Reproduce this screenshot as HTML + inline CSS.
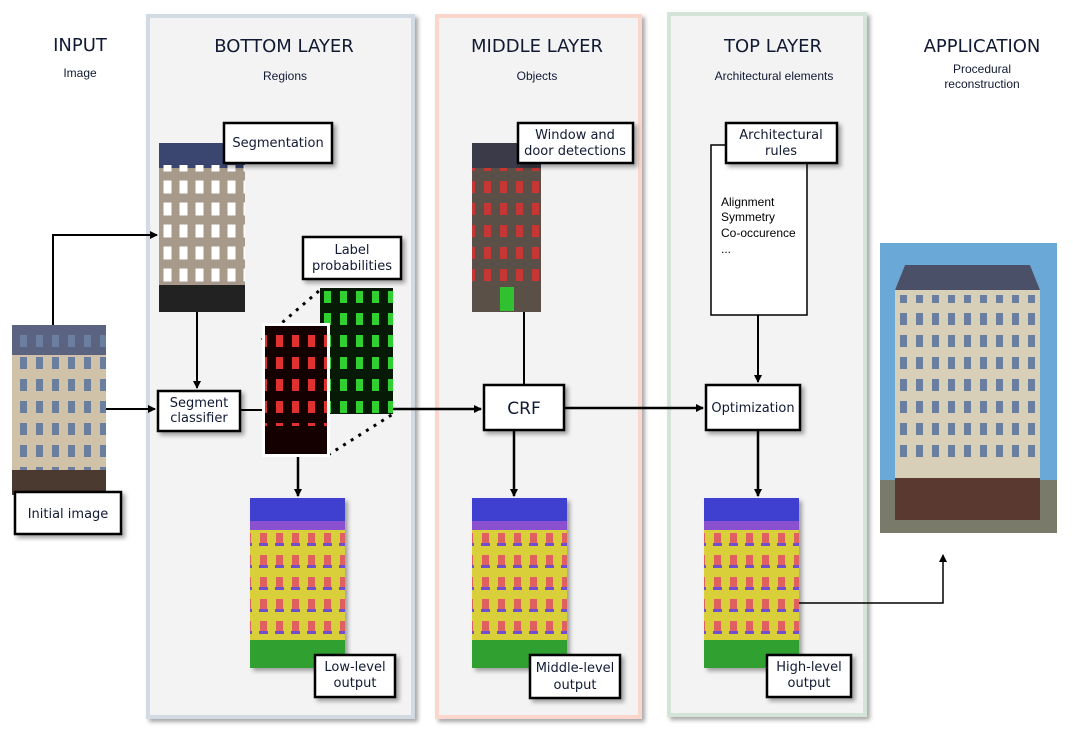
<!DOCTYPE html><html><head><style>body{margin:0;background:#fff}svg{display:block}text{font-family:"DejaVu Sans","Liberation Sans",sans-serif}</style></head><body>
<svg width="1073" height="750" viewBox="0 0 1073 750" xmlns="http://www.w3.org/2000/svg">
<defs>
<marker id="a" markerWidth="8" markerHeight="8" refX="7" refY="4" orient="auto" markerUnits="userSpaceOnUse"><path d="M0,0 L8,4 L0,8z" fill="#000"/></marker>
<pattern id="win" width="16" height="22" patternUnits="userSpaceOnUse"><rect x="4" y="5" width="7" height="12" fill="#6a7fa0"/></pattern>
<pattern id="rwin" width="16" height="22" patternUnits="userSpaceOnUse"><rect x="4" y="5" width="7" height="12" fill="#e03030"/></pattern>
<pattern id="swin" width="16" height="22" patternUnits="userSpaceOnUse"><rect x="4" y="5" width="7" height="12" fill="#fff" stroke="#fff"/></pattern>
<pattern id="gwin" width="16" height="22" patternUnits="userSpaceOnUse"><rect x="4" y="5" width="7" height="12" fill="#30d030"/></pattern>
<pattern id="owin" width="16" height="22" patternUnits="userSpaceOnUse"><rect x="4" y="5" width="7" height="10" fill="#e06060"/><rect x="3" y="15" width="9" height="3" fill="#7050d0"/></pattern>
<filter id="sh"><feDropShadow dx="3" dy="3" stdDeviation="2" flood-opacity="0.35"/></filter>
</defs>
<!-- panels -->
<rect x="148" y="16" width="265" height="701" fill="#f3f3f3" stroke="#d2dbe4" stroke-width="4" filter="url(#sh)"/>
<rect x="437" y="16" width="203" height="701" fill="#f3f3f3" stroke="#fbd6cc" stroke-width="4" filter="url(#sh)"/>
<rect x="669" y="14" width="196" height="701" fill="#f3f3f3" stroke="#d4e4d9" stroke-width="4" filter="url(#sh)"/>
<!-- headers -->
<g fill="#111a33" font-size="18" text-anchor="middle">
<text x="80" y="51">INPUT</text><text x="284" y="52">BOTTOM LAYER</text><text x="537" y="52">MIDDLE LAYER</text><text x="773" y="52">TOP LAYER</text><text x="982" y="52">APPLICATION</text></g>
<g fill="#111a33" font-size="12" text-anchor="middle" font-family="Liberation Sans">
<text x="80" y="77" style="font-family:'Liberation Sans'">Image</text><text x="285" y="80" style="font-family:'Liberation Sans'">Regions</text><text x="537" y="80" style="font-family:'Liberation Sans'">Objects</text><text x="774" y="80" style="font-family:'Liberation Sans'">Architectural elements</text><text x="982" y="73" style="font-family:'Liberation Sans'">Procedural</text><text x="982" y="88" style="font-family:'Liberation Sans'">reconstruction</text></g>
<!-- connectors -->
<g stroke="#000" stroke-width="2" fill="none">
<path d="M53 325 V235 H157" marker-end="url(#a)"/>
<path d="M106 409 H155" marker-end="url(#a)"/>
<path d="M197 312 V388" marker-end="url(#a)"/>
<path d="M241 410 H264"/>
<path d="M393 409 H481" marker-end="url(#a)" stroke-width="2.5"/>
<path d="M565 408 H703" marker-end="url(#a)" stroke-width="2.5"/>
<path d="M298 455 V496" marker-end="url(#a)" stroke-width="2.5"/>
<path d="M524 312 V384"/>
<path d="M514 430 V496" marker-end="url(#a)" stroke-width="2.5"/>
<path d="M758 315 V382" marker-end="url(#a)"/>
<path d="M758 430 V496" marker-end="url(#a)" stroke-width="2.5"/>
<path d="M797 603 H943 V555" marker-end="url(#a)" stroke-width="1.5"/>
<path d="M262 340 L320 290 M328 455 L393 414" stroke-dasharray="3,6" stroke-width="3"/>
</g>
<!-- input image -->
<rect x="12" y="325" width="94" height="170" fill="#cfc2a8"/><rect x="12" y="325" width="94" height="30" fill="#5a6480"/><rect x="12" y="335" width="94" height="150" fill="url(#win)"/><rect x="12" y="470" width="94" height="25" fill="#4a3a30"/>
<!-- segmentation image -->
<rect x="159" y="143" width="86" height="169" fill="#a89a8a"/><rect x="159" y="143" width="86" height="25" fill="#3a4570"/><rect x="159" y="165" width="86" height="120" fill="url(#swin)"/><rect x="159" y="285" width="86" height="27" fill="#222"/>
<!-- green & red -->
<rect x="320" y="288" width="73" height="126" fill="#061a06"/><rect x="320" y="288" width="73" height="126" fill="url(#gwin)"/>
<rect x="262" y="323" width="68" height="134" fill="#fff"/><rect x="265" y="326" width="62" height="128" fill="#150000"/><rect x="265" y="326" width="62" height="100" fill="url(#rwin)"/>
<!-- middle detection -->
<rect x="472" y="143" width="69" height="169" fill="#5a5048"/><rect x="472" y="143" width="69" height="25" fill="#3a3a48"/><rect x="472" y="168" width="69" height="120" fill="url(#rwin)" opacity="0.8"/><rect x="500" y="287" width="14" height="24" fill="#30c030"/>
<!-- outputs -->
<g id="out">
<rect x="250" y="498" width="95" height="170" fill="#d8cf3a" filter="url(#sh)"/><rect x="250" y="498" width="95" height="23" fill="#4040d0"/><rect x="250" y="521" width="95" height="9" fill="#8a50d0"/><rect x="250" y="530" width="95" height="110" fill="url(#owin)"/><rect x="250" y="640" width="95" height="28" fill="#30a030"/></g>
<use href="#out" x="222"/><use href="#out" x="454"/>
<!-- application image -->
<rect x="880" y="243" width="177" height="290" fill="#6aa8d8"/><path d="M895 290 L905 265 L1030 265 L1040 290 L1040 520 L895 520z" fill="#d8cfb8"/><path d="M895 290 L905 265 L1030 265 L1040 290z" fill="#4a5068"/><rect x="900" y="295" width="135" height="170" fill="url(#win)"/><rect x="880" y="480" width="177" height="53" fill="#7a7a6a"/><rect x="895" y="478" width="145" height="42" fill="#5a3a30"/>
<!-- rules text panel -->
<rect x="711" y="145" width="96" height="170" fill="#fff" stroke="#000" stroke-width="1.5"/>
<g font-size="12" fill="#000" style="font-family:'Liberation Sans'"><text x="721" y="206" style="font-family:'Liberation Sans'">Alignment</text><text x="721" y="221" style="font-family:'Liberation Sans'">Symmetry</text><text x="721" y="237" style="font-family:'Liberation Sans'">Co-occurence</text><text x="721" y="253" style="font-family:'Liberation Sans'">...</text></g>
<!-- boxes -->
<g fill="#fff" stroke="#000" stroke-width="2.5" filter="url(#sh)">
<rect x="224" y="123" width="108" height="40"/><rect x="303" y="237" width="98" height="42"/><rect x="15" y="492" width="106" height="42"/><rect x="158" y="391" width="82" height="40"/><rect x="315" y="655" width="80" height="42"/><rect x="518" y="123" width="115" height="40"/><rect x="484" y="385" width="80" height="45"/><rect x="530" y="655" width="90" height="43"/><rect x="726" y="123" width="111" height="40"/><rect x="706" y="385" width="94" height="45"/><rect x="767" y="655" width="84" height="42"/>
</g>
<g font-size="13" fill="#111a33" text-anchor="middle">
<text x="278" y="147">Segmentation</text><text x="352" y="254">Label</text><text x="352" y="270">probabilities</text><text x="68" y="518">Initial image</text><text x="199" y="407">Segment</text><text x="199" y="422">classifier</text><text x="355" y="671">Low-level</text><text x="355" y="687">output</text><text x="575" y="139">Window and</text><text x="575" y="155">door detections</text><text x="524" y="414" font-size="17">CRF</text><text x="575" y="672">Middle-level</text><text x="575" y="689">output</text><text x="781" y="139">Architectural</text><text x="781" y="155">rules</text><text x="753" y="412">Optimization</text><text x="809" y="671">High-level</text><text x="809" y="687">output</text>
</g>
</svg></body></html>
